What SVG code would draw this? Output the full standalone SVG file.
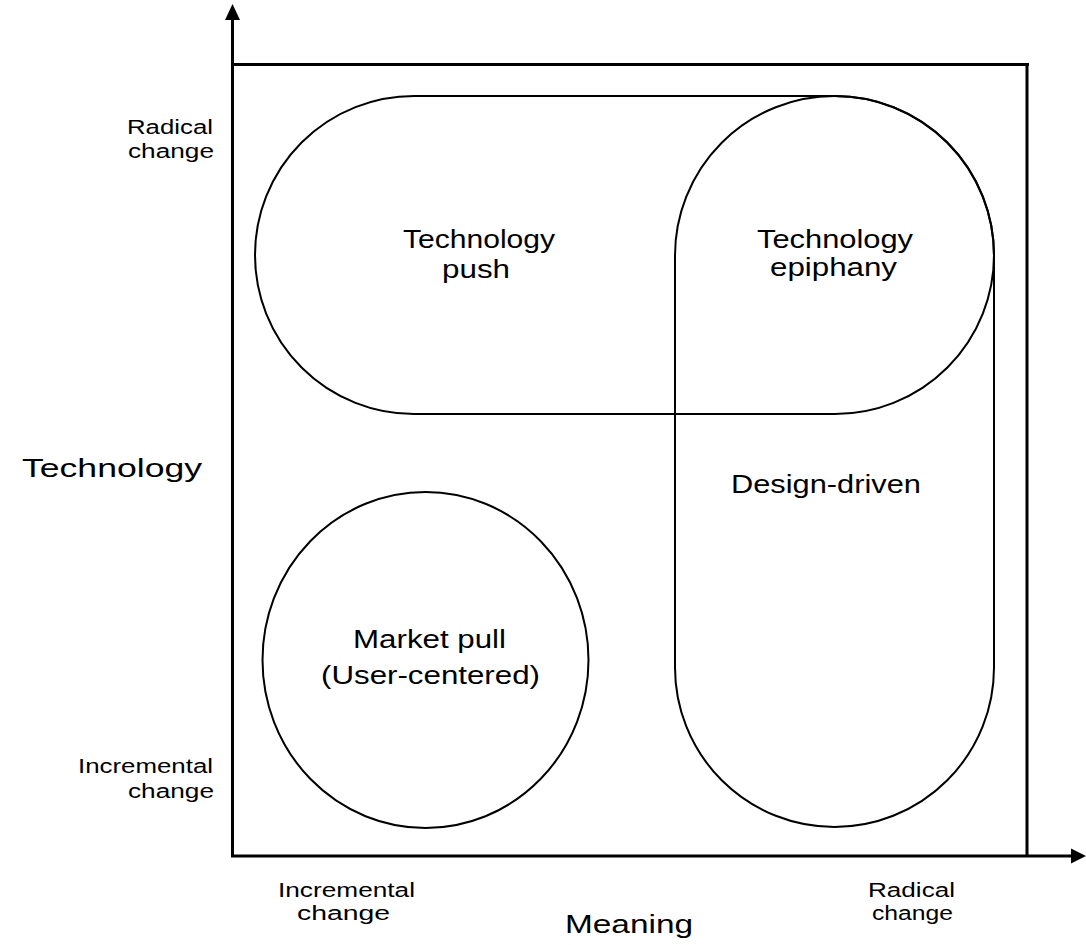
<svg xmlns="http://www.w3.org/2000/svg" width="1086" height="945" viewBox="0 0 1086 945">
<style>
  .shape { fill: none; stroke: #000; stroke-width: 2; }
  .axis { stroke: #000; stroke-width: 3; fill: none; }
  .head { fill: #000; stroke: none; }
  .big { font-family: "Liberation Sans", Arial, sans-serif; font-size: 25px; fill: #000; }
  .small { font-family: "Liberation Sans", Arial, sans-serif; font-size: 20px; fill: #000; }
</style>
<rect width="1086" height="945" fill="#fff"/>
<g id="axes">
  <line class="axis" x1="232.5" y1="18" x2="232.5" y2="857"/>
  <polygon class="head" points="232.5,4 225,20 240,20"/>
  <line class="axis" x1="231" y1="856" x2="1073" y2="856"/>
  <polygon class="head" points="1086,856 1071,848.5 1071,863.5"/>
  <line class="axis" x1="231" y1="64.5" x2="1029" y2="64.5" stroke-width="4"/>
  <line class="axis" x1="1027" y1="63" x2="1027" y2="856"/>
</g>
<g id="technology-push">
  <rect class="shape" x="255" y="96" width="739" height="318" rx="159" ry="159"/>
  <text class="big" x="403" y="248" textLength="152" lengthAdjust="spacingAndGlyphs">Technology</text>
  <text class="big" x="442" y="278" textLength="68" lengthAdjust="spacingAndGlyphs">push</text>
</g>
<g id="design-driven">
  <rect class="shape" x="675" y="96" width="319" height="731" rx="159.5" ry="159.5"/>
  <text class="big" x="731" y="493" textLength="190" lengthAdjust="spacingAndGlyphs" font-size="27">Design-driven</text>
</g>
<g id="technology-epiphany">
  <text class="big" x="757" y="248" textLength="156" lengthAdjust="spacingAndGlyphs">Technology</text>
  <text class="big" x="770" y="276" textLength="127" lengthAdjust="spacingAndGlyphs">epiphany</text>
</g>
<g id="market-pull">
  <ellipse class="shape" cx="425.5" cy="660" rx="163" ry="168"/>
  <text class="big" x="353" y="648" textLength="153" lengthAdjust="spacingAndGlyphs">Market pull</text>
  <text class="big" x="321" y="684" textLength="219" lengthAdjust="spacingAndGlyphs">(User-centered)</text>
</g>
<g id="labels">
  <text class="big" x="22" y="477" textLength="180" lengthAdjust="spacingAndGlyphs" font-size="27">Technology</text>
  <text class="big" x="565" y="933" textLength="128" lengthAdjust="spacingAndGlyphs" font-size="27">Meaning</text>
  <text class="small" x="127" y="134" textLength="86" lengthAdjust="spacingAndGlyphs">Radical</text>
  <text class="small" x="128" y="158" textLength="86" lengthAdjust="spacingAndGlyphs">change</text>
  <text class="small" x="78" y="773" textLength="135" lengthAdjust="spacingAndGlyphs">Incremental</text>
  <text class="small" x="128" y="798" textLength="86" lengthAdjust="spacingAndGlyphs">change</text>
  <text class="small" x="278" y="897" textLength="137" lengthAdjust="spacingAndGlyphs">Incremental</text>
  <text class="small" x="297" y="920" textLength="93" lengthAdjust="spacingAndGlyphs">change</text>
  <text class="small" x="868" y="897" textLength="87" lengthAdjust="spacingAndGlyphs">Radical</text>
  <text class="small" x="872" y="920" textLength="81" lengthAdjust="spacingAndGlyphs">change</text>
</g>
</svg>
